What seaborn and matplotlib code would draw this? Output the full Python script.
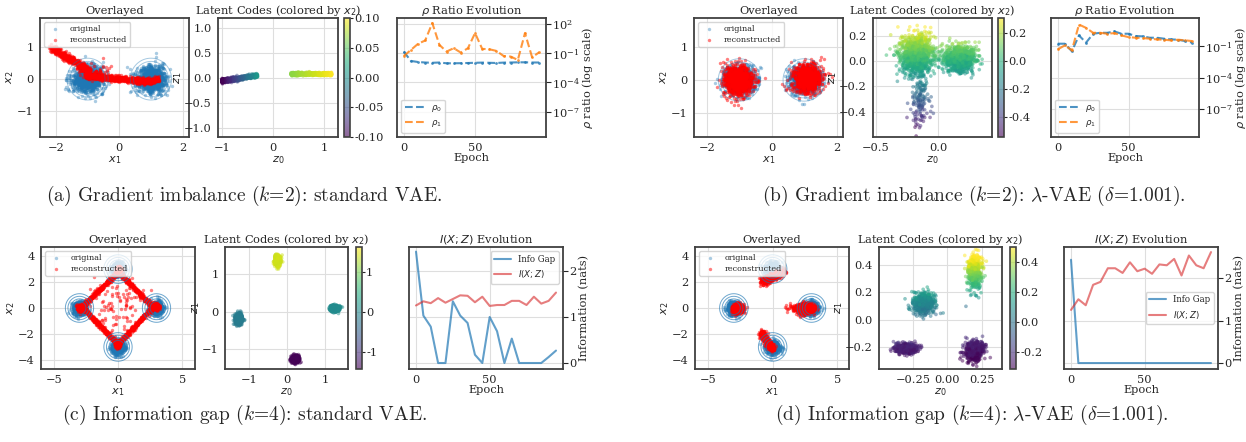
import numpy as np
import pandas as pd
import matplotlib
matplotlib.use("Agg")
import matplotlib.pyplot as plt
import seaborn as sns
from matplotlib.colors import Normalize
from matplotlib.lines import Line2D

sns.set_style("whitegrid", {"axes.edgecolor": "0.25", "grid.color": "0.87"})
plt.rcParams["font.family"] = ["DejaVu Serif"]
plt.rcParams["font.size"] = 8.2
plt.rcParams["axes.linewidth"] = 1.3
plt.rcParams["axes.titlesize"] = 8.2
plt.rcParams["axes.labelsize"] = 8.2

# ---- line series (every 5 epochs) ----
epochs = list(range(0, 100, 5))

# rho ratios, stored as log10 values
rho0_a_log = [-0.83, -1.79, -1.90, -1.95, -1.98, -1.95, -2.03, -2.03, -2.02, -2.00,
              -1.98, -1.96, -1.98, -2.00, -1.96, -1.95, -1.93, -1.93, -1.95, -1.95]
rho1_a_log = [-1.28, -0.66, -0.03, 0.31, 2.10, -0.14, -0.83, -0.48, -0.93, -0.48,
              1.07, -0.55, -0.59, -0.76, -1.28, -1.34, -1.69, 1.07, -1.41, -0.90]
rho0_b_log = [-0.78, -0.78, -1.50, 0.01, -0.68, 0.17, 0.26, 0.26, 0.39, 0.17,
              0.17, -0.05, -0.08, -0.21, -0.21, -0.30, -0.37, -0.40, -0.53, -0.68]
rho1_b_log = [-1.32, -0.94, -1.41, 1.05, 0.73, 0.26, 0.26, 0.17, 0.23, 0.01,
              -0.15, -0.21, -0.24, -0.30, -0.37, -0.40, -0.46, -0.40, -0.46, -0.53]

info_gap_c = [2.42, 1.03, 0.79, 0.0, 0.0, 1.34, 1.03, 0.87, 0.18, 0.0,
              1.00, 0.69, 0.0, 0.53, 0.0, 0.0, 0.0, 0.0, 0.13, 0.27]
mi_c = [1.25, 1.34, 1.30, 1.41, 1.31, 1.39, 1.47, 1.46, 1.32, 1.44,
        1.24, 1.26, 1.26, 1.35, 1.35, 1.26, 1.44, 1.29, 1.35, 1.53]
info_gap_d = [2.43, 0.0, 0.0, 0.0, 0.0, 0.0, 0.0, 0.0, 0.0, 0.0,
              0.0, 0.0, 0.0, 0.0, 0.0, 0.0, 0.0, 0.0, 0.0, 0.0]
mi_d = [1.25, 1.50, 1.36, 1.84, 1.91, 2.23, 2.23, 2.12, 2.37, 2.16,
        2.22, 2.10, 2.32, 2.30, 2.45, 2.06, 2.53, 2.30, 2.23, 2.61]

# ---- point clouds: cluster descriptors ----
# (center x, center y, std x, std y, n)
orig_k2 = [(-1.0, 0.0, 0.24, 0.2, 1000), (1.0, 0.0, 0.23, 0.2, 1000)]
orig_k4 = [(-3.0, 0.0, 0.25, 0.25, 600), (3.0, 0.0, 0.25, 0.25, 600),
           (0.0, 3.0, 0.25, 0.25, 600), (0.0, -3.0, 0.25, 0.25, 600)]

# reconstructions: segments (x0, y0, x1, y1, n, noise) and blobs
recon_a_segs = [(-2.15, 0.97, -1.0, 0.30, 450, 0.055), (-1.0, 0.30, -1.0, 0.05, 120, 0.04),
                (-1.0, 0.1, 1.0, -0.08, 800, 0.045), (1.0, -0.08, 1.25, 0.03, 80, 0.04)]
recon_a_blobs = [(-0.8, 0.25, 0.3, 0.12, 60)]
recon_b_blobs = [(-1.05, 0.0, 0.23, 0.23, 1000), (1.1, 0.05, 0.21, 0.21, 1000)]
recon_c_segs = [(-2.8, 0.1, 0.0, 2.8, 350, 0.08), (0.0, 2.8, 2.7, 0.1, 350, 0.08),
                (2.7, 0.1, 0.0, -2.8, 350, 0.08), (0.0, -2.8, -2.8, 0.1, 350, 0.08)]
recon_c_blobs = [(-2.9, 0.0, 0.15, 0.15, 150), (0.1, 2.9, 0.12, 0.15, 150),
                 (2.9, 0.1, 0.2, 0.15, 150), (0.0, -2.8, 0.12, 0.15, 150),
                 (0.0, 0.0, 1.0, 1.0, 90)]
recon_d_segs = [(-0.8, 2.05, 0.8, 2.8, 500, 0.14), (-0.9, -1.9, 0.0, -3.2, 500, 0.12)]
recon_d_blobs = [(-2.7, -0.05, 0.2, 0.18, 600), (2.5, -0.05, 0.35, 0.2, 700),
                 (1.6, 0.0, 0.4, 0.2, 40)]

# latent clusters: (z0, z1, std z0, std z1, n, colour value, colour slope along z1)
lat_b = [(-0.17, 0.05, 0.065, 0.08, 1100, 0.08, 1.0), (-0.15, -0.32, 0.04, 0.1, 140, -0.3, 1.0),
         (0.17, 0.02, 0.06, 0.05, 1000, 0.03, 1.0)]
lat_c = [(-0.25, 1.35, 0.04, 0.07, 500, 1.40, 0.0), (1.25, 0.08, 0.06, 0.04, 500, 0.05, 0.0),
         (-1.27, -0.2, 0.05, 0.07, 500, -0.15, 0.0), (0.22, -1.27, 0.05, 0.05, 500, -1.40, 0.0)]
lat_d = [(-0.17, 0.12, 0.04, 0.04, 500, 0.07, 0.8), (0.2, 0.35, 0.025, 0.06, 500, 0.37, 1.5),
         (-0.3, -0.21, 0.04, 0.02, 500, -0.24, 0.5), (0.2, -0.23, 0.035, 0.035, 500, -0.27, 0.5)]

rng = np.random.default_rng(3)


def blobs(desc):
    pts = [np.column_stack([rng.normal(cx, sx, n), rng.normal(cy, sy, n)])
           for cx, cy, sx, sy, n in desc]
    return np.vstack(pts)


def segments(desc):
    pts = []
    for x0, y0, x1, y1, n, s in desc:
        t = rng.uniform(0, 1, n)
        pts.append(np.column_stack([x0 + t * (x1 - x0) + rng.normal(0, s, n),
                                    y0 + t * (y1 - y0) + rng.normal(0, s, n)]))
    return np.vstack(pts)


def latent(desc):
    rows = []
    for cx, cy, sx, sy, n, cv, slope in desc:
        z0 = rng.normal(cx, sx, n)
        z1 = rng.normal(cy, sy, n)
        col = cv + slope * (z1 - cy) + rng.normal(0, 0.02, n)
        rows.append(np.column_stack([z0, z1, col]))
    return pd.DataFrame(np.vstack(rows), columns=["z0", "z1", "x2"])


# latent (a): two elongated strips
n_l, n_r = 700, 700
t = rng.power(0.6, n_l)
lat_a_left = pd.DataFrame({"z0": -1.0 + 0.7 * t,
                           "z1": -0.06 + 0.11 * t + rng.normal(0, 0.02, n_l),
                           "x2": -0.1 + 0.11 * t})
z0r = rng.uniform(0.35, 1.15, n_r)
lat_a_right = pd.DataFrame({"z0": z0r, "z1": 0.08 + rng.normal(0, 0.014, n_r),
                            "x2": 0.065 + 0.035 * (z0r - 0.35) / 0.8})
lat_a = pd.concat([lat_a_left, lat_a_right])

W, H = 1246, 442
fig = plt.figure(figsize=(W / 100, H / 100), dpi=100)


def rect(x0, x1, y0, y1):
    return [x0 / W, 1 - y1 / H, (x1 - x0) / W, (y1 - y0) / H]


def overlay(box, orig, recon, centers, xlim, ylim, xt, yt, csig, radii, calpha):
    ax = fig.add_axes(box)
    sns.scatterplot(x=orig[:, 0], y=orig[:, 1], s=6, color="#1f77b4", alpha=0.38,
                    linewidth=0, label="original", ax=ax)
    gx, gy = np.meshgrid(np.linspace(xlim[0], xlim[1], 300), np.linspace(ylim[0], ylim[1], 300))
    dens = sum(np.exp(-((gx - cx) ** 2 + (gy - cy) ** 2) / (2 * csig ** 2)) for cx, cy in centers)
    levels = sorted(np.exp(-np.array(radii) ** 2 / (2 * csig ** 2)))
    ax.contour(gx, gy, dens, levels=levels, colors="#1f77b4", linewidths=0.7, alpha=calpha)
    sns.scatterplot(x=recon[:, 0], y=recon[:, 1], s=6, color="red", alpha=0.5,
                    linewidth=0, label="reconstructed", ax=ax)
    ax.set_xlim(xlim)
    ax.set_ylim(ylim)
    ax.set_xticks(xt)
    ax.set_yticks(yt)
    ax.set_xlabel("$x_1$", labelpad=1)
    ax.set_ylabel("$x_2$", labelpad=1)
    ax.set_title("Overlayed", pad=3)
    ax.legend(loc="upper left", fontsize=5.8, handletextpad=0.8, borderpad=0.4,
              labelspacing=0.3, framealpha=0.8)
    ax.tick_params(pad=1)
    return ax


def latent_panel(box, cbox, df, vmin, vmax, xlim, ylim, xt, yt, ct, cfmt):
    ax = fig.add_axes(box)
    sns.scatterplot(data=df, x="z0", y="z1", hue="x2", palette="viridis",
                    hue_norm=(vmin, vmax), s=7, alpha=0.5, linewidth=0,
                    legend=False, ax=ax)
    ax.set_xlim(xlim)
    ax.set_ylim(ylim)
    ax.set_xticks(xt)
    ax.set_yticks(yt)
    ax.set_xlabel("$z_0$", labelpad=1)
    ax.set_ylabel("$z_1$", labelpad=0)
    ax.set_title("Latent Codes (colored by $x_2$)", pad=3)
    ax.tick_params(pad=1)
    cax = fig.add_axes(cbox)
    sm = plt.cm.ScalarMappable(norm=Normalize(vmin, vmax), cmap="viridis")
    cb = fig.colorbar(sm, cax=cax, ticks=ct, format=cfmt)
    cb.solids.set(alpha=0.6)
    cb.outline.set_linewidth(1.2)
    cb.ax.tick_params(labelsize=8.2, pad=1, length=2)
    return ax


def rho_panel(box, r0, r1, ylog):
    ax = fig.add_axes(box)
    sns.lineplot(x=epochs, y=[10 ** v for v in r0], ax=ax, color="#1f77b4", alpha=0.8,
                 ls="--", marker="o", markersize=2, markeredgewidth=0, lw=1.5)
    sns.lineplot(x=epochs, y=[10 ** v for v in r1], ax=ax, color="#ff7f0e", alpha=0.8,
                 ls="--", marker="o", markersize=2, markeredgewidth=0, lw=1.5)
    ax.set_yscale("log")
    ax.set_ylim(10 ** ylog[0], 10 ** ylog[1])
    ax.set_yticks([1e-7, 1e-4, 1e-1, 1e2] if ylog[1] > 2 else [1e-7, 1e-4, 1e-1])
    ax.minorticks_off()
    ax.set_xlim(-4.75, 99.75)
    ax.set_xticks([0, 50])
    ax.yaxis.tick_right()
    ax.yaxis.set_label_position("right")
    ax.set_ylabel(r"$\rho$ ratio (log scale)", labelpad=0)
    ax.set_xlabel("Epoch", labelpad=0)
    ax.set_title(r"$\rho$ Ratio Evolution", pad=3)
    handles = [Line2D([], [], color="#1f77b4", alpha=0.8, ls="--", lw=1.5),
               Line2D([], [], color="#ff7f0e", alpha=0.8, ls="--", lw=1.5)]
    ax.legend(handles, [r"$\rho_0$", r"$\rho_1$"], loc="lower left", fontsize=6.2,
              handlelength=2.2, framealpha=0.8)
    ax.tick_params(pad=1)
    return ax


def info_panel(box, gap, mi, ylim, loc):
    ax = fig.add_axes(box)
    sns.lineplot(x=epochs, y=gap, ax=ax, color="#1f77b4", alpha=0.7, lw=1.5, label="Info Gap")
    sns.lineplot(x=epochs, y=mi, ax=ax, color="#d62728", alpha=0.6, lw=1.5, label="$I(X;Z)$")
    ax.set_ylim(ylim)
    ax.set_yticks([0, 1, 2])
    ax.set_xlim(-4.75, 99.75)
    ax.set_xticks([0, 50])
    ax.yaxis.tick_right()
    ax.yaxis.set_label_position("right")
    ax.set_ylabel("Information (nats)", labelpad=2)
    ax.set_xlabel("Epoch", labelpad=0)
    ax.set_title("$I(X;Z)$ Evolution", pad=3)
    ax.legend(loc=loc, fontsize=6.2, framealpha=0.8)
    ax.tick_params(pad=1)
    return ax


ctr_k2 = [(c[0], c[1]) for c in orig_k2]
ctr_k4 = [(c[0], c[1]) for c in orig_k4]

# (a)
overlay(rect(40, 189, 18, 137), blobs(orig_k2), np.vstack([segments(recon_a_segs), blobs(recon_a_blobs)]),
        ctr_k2, (-2.5, 2.2), (-1.8, 1.9), [-2, 0, 2], [-1, 0, 1], 0.3, [0.55, 0.65], 0.4)
latent_panel(rect(218, 338, 18, 137), rect(344, 350, 18, 137), lat_a, -0.1, 0.1,
             (-1.08, 1.27), (-1.18, 1.2), [-1, 0, 1], [-1.0, -0.5, 0.0, 0.5, 1.0],
             [-0.1, -0.05, 0.0, 0.05, 0.1], "%.2f")
rho_panel(rect(397, 546, 18, 137), rho0_a_log, rho1_a_log, (-9.6, 2.62))

# (b)
overlay(rect(694, 843, 18, 137), blobs(orig_k2), blobs(recon_b_blobs),
        ctr_k2, (-2.4, 2.2), (-1.75, 1.9), [-2, 0, 2], [-1, 0, 1], 0.3, [0.55, 0.65], 0.4)
latent_panel(rect(873, 992, 18, 137), rect(998, 1004, 18, 137), latent(lat_b), -0.54, 0.31,
             (-0.52, 0.43), (-0.6, 0.34), [-0.5, 0.0], [-0.4, -0.2, 0.0, 0.2],
             [-0.4, -0.2, 0.0, 0.2], "%.1f")
rho_panel(rect(1051, 1199, 18, 137), rho0_b_log, rho1_b_log, (-9.67, 1.67))

# (c)
overlay(rect(41, 195, 247, 369), blobs(orig_k4), np.vstack([segments(recon_c_segs), blobs(recon_c_blobs)]),
        ctr_k4, (-6, 6), (-4.7, 4.7), [-5, 0, 5], [-4, -2, 0, 2, 4], 0.5, [0.5, 0.7, 0.9, 1.1], 0.65)
latent_panel(rect(225, 348, 247, 369), rect(356, 362, 247, 369), latent(lat_c), -1.42, 1.62,
             (-1.63, 1.6), (-1.53, 1.72), [-1, 0, 1], [-1, 0, 1], [-1, 0, 1], "%d")
info_panel(rect(409, 563, 247, 369), info_gap_c, mi_c, (-0.13, 2.52), "upper right")

# (d)
overlay(rect(695, 849, 247, 369), blobs(orig_k4), np.vstack([segments(recon_d_segs), blobs(recon_d_blobs)]),
        ctr_k4, (-6, 5.9), (-4.7, 4.7), [-5, 0, 5], [-4, -2, 0, 2, 4], 0.5, [0.5, 0.7, 0.9, 1.1], 0.65)
latent_panel(rect(879, 1002, 247, 369), rect(1010, 1016, 247, 369), latent(lat_d), -0.31, 0.5,
             (-0.5, 0.4), (-0.36, 0.53), [-0.25, 0.0, 0.25], [-0.2, 0.0, 0.2, 0.4],
             [-0.2, 0.0, 0.2, 0.4], "%.1f")
info_panel(rect(1064, 1218, 247, 369), info_gap_d, mi_d, (-0.14, 2.73), "center right")

# sub-captions
captions = [(244, 196, "(a) Gradient imbalance ($k$=2): standard VAE."),
            (974, 196, r"(b) Gradient imbalance ($k$=2): $\lambda$-VAE ($\delta$=1.001)."),
            (245, 415, "(c) Information gap ($k$=4): standard VAE."),
            (972, 415, r"(d) Information gap ($k$=4): $\lambda$-VAE ($\delta$=1.001).")]
for cx, cy, txt in captions:
    fig.text(cx / W, 1 - cy / H, txt, ha="center", va="center", fontsize=14,
             fontfamily="cmr10", math_fontfamily="cm")

fig.savefig("out.png", dpi=100)
